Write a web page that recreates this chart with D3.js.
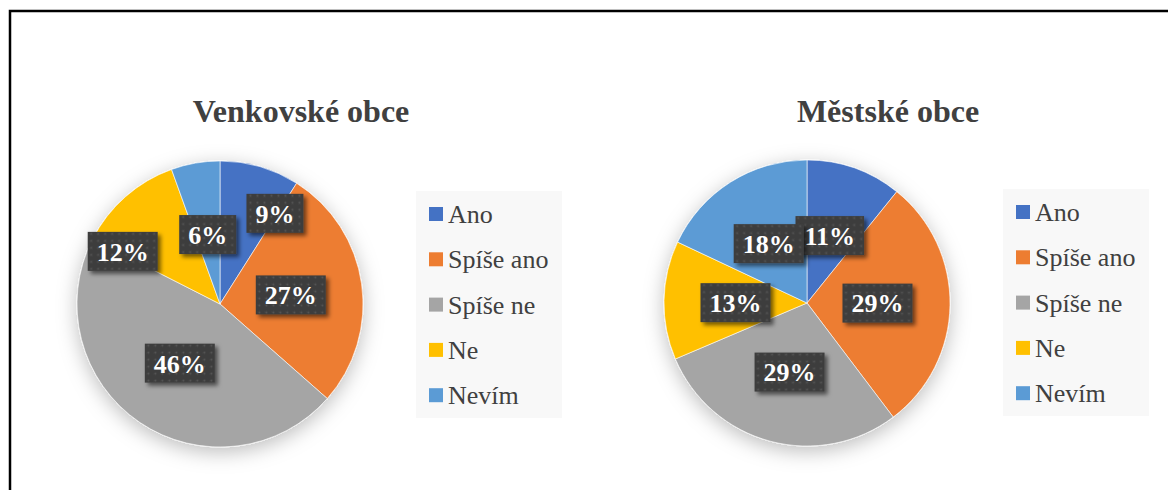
<!DOCTYPE html>
<html>
<head>
<meta charset="utf-8">
<script src="https://cdn.jsdelivr.net/npm/d3@7"></script>
<style>
  html, body { margin: 0; padding: 0; background: #ffffff; }
  svg { display: block; }
</style>
</head>
<body>
<svg id="chart" width="1168" height="490"></svg>
<script>
// ---------- data ----------
const categories = ["Ano", "Spíše ano", "Spíše ne", "Ne", "Nevím"];
const ruralValues = [9, 27.5, 46, 12, 5.5];
const ruralLabels = ["9%", "27%", "46%", "12%", "6%"];
const urbanValues = [10.8, 28.9, 28.9, 13.4, 18];
const urbanLabels = ["11%", "29%", "29%", "13%", "18%"];
const titles = ["Venkovské obce", "Městské obce"];

// ---------- styles / layout ----------
const colors = ["#4472C4", "#ED7D31", "#A5A5A5", "#FFC000", "#5B9BD5"];
const textColor = "#404040";
const serif = "'Times New Roman', Times, Tinos, 'Liberation Serif', 'DejaVu Serif', serif";

const panels = [
  { title: titles[0], values: ruralValues, labels: ruralLabels,
    cx: 220, cy: 304, r: 143, titleX: 301,
    legendX: 416, legendY: 191,
    nudges: [[35, -22], [0, 1], [0, 0], [-50, 1], [0, 1]] },
  { title: titles[1], values: urbanValues, labels: urbanLabels,
    cx: 807, cy: 303, r: 143, titleX: 888,
    legendX: 1003, legendY: 189,
    nudges: [[-1, 0], [-1, -1], [1, 0], [0, 1], [0, 1]] }
];

const svg = d3.select("#chart");
const defs = svg.append("defs");

const fPie = defs.append("filter").attr("id", "pieShadow")
  .attr("x", "-30%").attr("y", "-30%").attr("width", "160%").attr("height", "160%");
fPie.append("feDropShadow").attr("dx", 0).attr("dy", 5)
  .attr("stdDeviation", 10).attr("flood-color", "#000").attr("flood-opacity", 0.26);

const fLab = defs.append("filter").attr("id", "labShadow")
  .attr("x", "-30%").attr("y", "-30%").attr("width", "160%").attr("height", "160%");
fLab.append("feDropShadow").attr("dx", 3).attr("dy", 3)
  .attr("stdDeviation", 2).attr("flood-color", "#000").attr("flood-opacity", 0.55);

const pat = defs.append("pattern").attr("id", "dots")
  .attr("patternUnits", "userSpaceOnUse").attr("width", 7).attr("height", 7);
pat.append("rect").attr("width", 7).attr("height", 7).attr("fill", "#3e3e3e");
pat.append("circle").attr("cx", 3.5).attr("cy", 3.5).attr("r", 1).attr("fill", "#565656");

svg.append("rect").attr("x", 10).attr("y", 11).attr("width", 1200).attr("height", 520)
  .attr("fill", "none").attr("stroke", "#000").attr("stroke-width", 2.5);

const color = d3.scaleOrdinal().domain(categories).range(colors);

panels.forEach(p => {
  svg.append("text")
    .attr("x", p.titleX).attr("y", 122)
    .attr("text-anchor", "middle")
    .style("font-family", serif).attr("font-weight", "bold")
    .attr("font-size", 32).attr("fill", textColor)
    .text(p.title);

  const data = categories.map((c, i) => ({ cat: c, value: p.values[i], label: p.labels[i], i }));
  const pie = d3.pie().value(d => d.value).sort(null);
  const arcs = pie(data);
  const arc = d3.arc().innerRadius(0).outerRadius(p.r);
  const labelArc = d3.arc().innerRadius(p.r * 0.5).outerRadius(p.r * 0.5);

  const g = svg.append("g").attr("transform", `translate(${p.cx},${p.cy})`);
  const pg = g.append("g").attr("filter", "url(#pieShadow)");
  pg.selectAll("path").data(arcs).enter().append("path")
    .attr("d", arc)
    .attr("fill", d => color(d.data.cat))
    .attr("stroke", "#ffffff").attr("stroke-width", 0.6);

  const lg = g.append("g");
  arcs.forEach((a, k) => {
    const c = labelArc.centroid(a);
    const x = c[0] + p.nudges[k][0], y = c[1] + p.nudges[k][1];
    const grp = lg.append("g").attr("transform", `translate(${x},${y})`);
    const t = grp.append("text")
      .attr("text-anchor", "middle").attr("dy", "0.36em")
      .style("font-family", serif).attr("font-weight", "bold")
      .attr("font-size", 26).attr("fill", "#ffffff")
      .text(a.data.label);
    const w = t.node().getComputedTextLength() + 18;
    const h = 39;
    grp.insert("rect", "text")
      .attr("x", -w / 2).attr("y", -h / 2).attr("width", w).attr("height", h)
      .attr("fill", "url(#dots)").attr("filter", "url(#labShadow)");
  });

  const leg = svg.append("g").attr("transform", `translate(${p.legendX},${p.legendY})`);
  leg.append("rect").attr("width", 146).attr("height", 227).attr("fill", "#f8f8f8");
  const ly = d3.scalePoint().domain(categories).range([16, 16 + 4 * 45.3]);
  categories.forEach(c => {
    leg.append("rect").attr("x", 13).attr("y", ly(c)).attr("width", 14).attr("height", 14)
      .attr("fill", color(c));
    leg.append("text").attr("x", 32).attr("y", ly(c) + 16)
      .style("font-family", serif).attr("font-size", 26).attr("fill", textColor)
      .text(c);
  });
});
</script>
</body>
</html>
